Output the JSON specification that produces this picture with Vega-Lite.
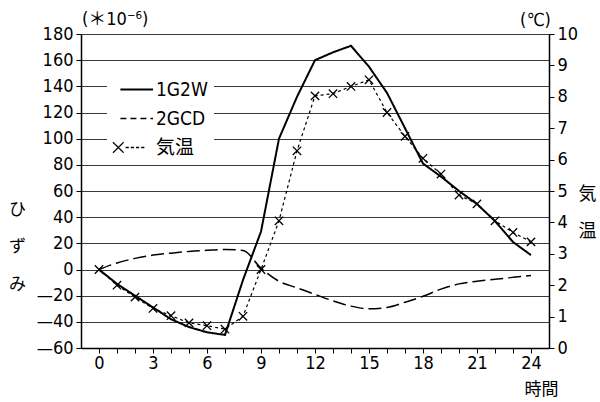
{
  "$schema": "https://vega.github.io/schema/vega-lite/v6.json",
  "width": 468,
  "height": 314,
  "autosize": "none",
  "padding": {"left": 81, "top": 34, "right": 51, "bottom": 54},
  "background": "white",
  "title": {
    "text": "(＊10⁻⁶)",
    "anchor": "start",
    "frame": "group",
    "dx": 1,
    "dy": 41,
    "offset": 5,
    "baseline": "bottom",
    "font": "Liberation Sans Narrow, DejaVu Sans Condensed, Noto Sans CJK JP, sans-serif",
    "fontSize": 18,
    "fontWeight": "normal",
    "color": "black"
  },
  "datasets": {
    "strain": [
      {"hour": 0, "series": "1G2W", "value": 0},
      {"hour": 1, "series": "1G2W", "value": -11},
      {"hour": 2, "series": "1G2W", "value": -20},
      {"hour": 3, "series": "1G2W", "value": -29},
      {"hour": 4, "series": "1G2W", "value": -38},
      {"hour": 5, "series": "1G2W", "value": -44},
      {"hour": 6, "series": "1G2W", "value": -48},
      {"hour": 7, "series": "1G2W", "value": -50},
      {"hour": 8, "series": "1G2W", "value": -8},
      {"hour": 9, "series": "1G2W", "value": 29},
      {"hour": 10, "series": "1G2W", "value": 100},
      {"hour": 11, "series": "1G2W", "value": 132},
      {"hour": 12, "series": "1G2W", "value": 160},
      {"hour": 13, "series": "1G2W", "value": 166},
      {"hour": 14, "series": "1G2W", "value": 171},
      {"hour": 15, "series": "1G2W", "value": 155},
      {"hour": 16, "series": "1G2W", "value": 135},
      {"hour": 17, "series": "1G2W", "value": 108},
      {"hour": 18, "series": "1G2W", "value": 81},
      {"hour": 19, "series": "1G2W", "value": 71},
      {"hour": 20, "series": "1G2W", "value": 60},
      {"hour": 21, "series": "1G2W", "value": 50},
      {"hour": 22, "series": "1G2W", "value": 37},
      {"hour": 23, "series": "1G2W", "value": 21},
      {"hour": 24, "series": "1G2W", "value": 11},
      {"hour": 0, "series": "2GCD", "value": 0},
      {"hour": 1, "series": "2GCD", "value": 5},
      {"hour": 2, "series": "2GCD", "value": 8.5},
      {"hour": 3, "series": "2GCD", "value": 11},
      {"hour": 4, "series": "2GCD", "value": 12.5},
      {"hour": 5, "series": "2GCD", "value": 13.8},
      {"hour": 6, "series": "2GCD", "value": 14.7},
      {"hour": 7, "series": "2GCD", "value": 15.3},
      {"hour": 8, "series": "2GCD", "value": 14.5},
      {"hour": 9, "series": "2GCD", "value": 1},
      {"hour": 10, "series": "2GCD", "value": -9},
      {"hour": 11, "series": "2GCD", "value": -14},
      {"hour": 12, "series": "2GCD", "value": -19},
      {"hour": 13, "series": "2GCD", "value": -24},
      {"hour": 14, "series": "2GCD", "value": -28},
      {"hour": 15, "series": "2GCD", "value": -30},
      {"hour": 16, "series": "2GCD", "value": -29},
      {"hour": 17, "series": "2GCD", "value": -25},
      {"hour": 18, "series": "2GCD", "value": -20.5},
      {"hour": 19, "series": "2GCD", "value": -15},
      {"hour": 20, "series": "2GCD", "value": -11},
      {"hour": 21, "series": "2GCD", "value": -9},
      {"hour": 22, "series": "2GCD", "value": -7.5},
      {"hour": 23, "series": "2GCD", "value": -6},
      {"hour": 24, "series": "2GCD", "value": -4.5}
    ],
    "temp": [
      {"hour": 0, "temp": 2.5},
      {"hour": 1, "temp": 2.0},
      {"hour": 2, "temp": 1.62},
      {"hour": 3, "temp": 1.26},
      {"hour": 4, "temp": 1.03},
      {"hour": 5, "temp": 0.8},
      {"hour": 6, "temp": 0.71},
      {"hour": 7, "temp": 0.6},
      {"hour": 8, "temp": 1.01},
      {"hour": 9, "temp": 2.5},
      {"hour": 10, "temp": 4.05},
      {"hour": 11, "temp": 6.28},
      {"hour": 12, "temp": 8.03},
      {"hour": 13, "temp": 8.1},
      {"hour": 14, "temp": 8.33},
      {"hour": 15, "temp": 8.54},
      {"hour": 16, "temp": 7.5},
      {"hour": 17, "temp": 6.74},
      {"hour": 18, "temp": 6.04},
      {"hour": 19, "temp": 5.54},
      {"hour": 20, "temp": 4.87},
      {"hour": 21, "temp": 4.59},
      {"hour": 22, "temp": 4.05},
      {"hour": 23, "temp": 3.68},
      {"hour": 24, "temp": 3.38}
    ]
  },
  "layer": [
    {
      "data": {"name": "strain"},
      "encoding": {
        "x": {
          "field": "hour",
          "type": "quantitative",
          "scale": {"domain": [-1, 25], "nice": false, "zero": false},
          "axis": {
            "orient": "bottom",
            "values": [0,1,2,3,4,5,6,7,8,9,10,11,12,13,14,15,16,17,18,19,20,21,22,23,24],
            "labelExpr": "datum.value % 3 === 0 ? datum.label : ''",
            "grid": false,
            "domainColor": "black",
            "domainWidth": 1.5,
            "tickColor": "black",
            "tickSize": 5,
            "tickWidth": 1,
            "labelFont": "Liberation Sans Narrow, DejaVu Sans Condensed, sans-serif",
            "labelFontSize": 18,
            "labelColor": "black",
            "labelPadding": 1,
            "labelFlush": false,
            "labelOverlap": false,
            "title": "時間",
            "titleX": 460,
            "titleY": 41,
            "titleAlign": "center",
            "titleBaseline": "middle",
            "titleFont": "Noto Sans CJK JP",
            "titleFontSize": 17,
            "titleFontWeight": "normal",
            "titleColor": "black"
          }
        },
        "y": {
          "field": "value",
          "type": "quantitative",
          "scale": {"domain": [-60, 180], "nice": false, "zero": false},
          "axis": {
            "orient": "left",
            "values": [-60,-40,-20,0,20,40,60,80,100,120,140,160,180],
            "labelExpr": "datum.value < 0 ? '—' + abs(datum.value) : datum.label",
            "grid": true,
            "gridColor": "#3a3a3a",
            "gridWidth": 1,
            "domainColor": "black",
            "domainWidth": 1.5,
            "tickColor": "black",
            "tickSize": 5,
            "tickWidth": 1,
            "labelFont": "Liberation Sans Narrow, DejaVu Sans Condensed, sans-serif",
            "labelFontSize": 18,
            "labelColor": "black",
            "labelPadding": 3,
            "labelFlush": false,
            "labelOverlap": false,
            "title": ["ひ", "ず", "み"],
            "titleAngle": 0,
            "titleX": -64,
            "titleY": 175,
            "titleAlign": "center",
            "titleBaseline": "middle",
            "titleLineHeight": 37.5,
            "titleFont": "Noto Sans CJK JP",
            "titleFontSize": 17,
            "titleFontWeight": "normal",
            "titleColor": "black"
          }
        }
      },
      "layer": [
        {
          "transform": [{"filter": "datum.series === '1G2W'"}],
          "mark": {"type": "line", "color": "black", "strokeWidth": 2},
          "encoding": {
            "strokeDash": {
              "field": "series",
              "type": "nominal",
              "scale": {"domain": ["1G2W", "2GCD", "気温"], "range": [[1, 0], [6, 4], [1, 0]]},
              "legend": {
                "orient": "none",
                "legendX": 26,
                "legendY": 40,
                "title": null,
                "direction": "vertical",
                "symbolType": "stroke",
                "symbolSize": 1600,
                "symbolOffset": 10.5,
                "symbolStrokeColor": "black",
                "symbolStrokeWidth": 1.5,
                "symbolFillColor": "transparent",
                "labelFont": "Liberation Sans Narrow, DejaVu Sans Condensed, Noto Sans CJK JP, sans-serif",
                "labelFontSize": 19,
                "labelColor": "black",
                "labelOffset": 13.5,
                "fillColor": "white",
                "padding": 6,
                "rowPadding": 9,
                "encode": {
                  "symbols": {
                    "update": {
                      "shape": {"signal": "datum.value === '気温' ? 'M-1,-0.26L-0.47,0.26M-1,0.26L-0.47,-0.26M-0.37,0L-0.21,0M-0.11,0L0.05,0M0.15,0L0.31,0M0.41,0L0.57,0' : 'M-0.63,0L1,0'"},
                      "strokeWidth": {"signal": "datum.value === '1G2W' ? 2 : 1.3"}
                    }
                  }
                }
              }
            }
          }
        },
        {
          "transform": [{"filter": "datum.series === '2GCD'"}],
          "mark": {"type": "line", "color": "black", "strokeWidth": 1.5, "strokeDash": [13, 5], "interpolate": "monotone"}
        }
      ]
    },
    {
      "data": {"name": "temp"},
      "encoding": {
        "x": {
          "field": "hour",
          "type": "quantitative",
          "scale": {"domain": [-1, 25], "nice": false, "zero": false},
          "axis": {
            "orient": "top",
            "domain": false,
            "ticks": false,
            "labels": false,
            "grid": false,
            "title": "(℃)",
            "titleX": 454,
            "titleY": -14,
            "titleAlign": "center",
            "titleBaseline": "middle",
            "titleFont": "Liberation Sans Narrow, DejaVu Sans Condensed, Noto Sans CJK JP, sans-serif",
            "titleFontSize": 18,
            "titleFontWeight": "normal",
            "titleColor": "black"
          }
        },
        "y": {
          "field": "temp",
          "type": "quantitative",
          "scale": {"domain": [0, 10], "nice": false, "zero": false},
          "axis": {
            "orient": "right",
            "values": [0,1,2,3,4,5,6,7,8,9,10],
            "grid": false,
            "domainColor": "black",
            "domainWidth": 1.5,
            "tickColor": "black",
            "tickSize": 5,
            "tickWidth": 1,
            "labelFont": "Liberation Sans Narrow, DejaVu Sans Condensed, sans-serif",
            "labelFontSize": 18,
            "labelColor": "black",
            "labelPadding": 3,
            "labelFlush": false,
            "labelOverlap": false,
            "title": ["気", "温"],
            "titleAngle": 0,
            "titleX": 38,
            "titleY": 160,
            "titleAlign": "center",
            "titleBaseline": "middle",
            "titleLineHeight": 37,
            "titleFont": "Noto Sans CJK JP",
            "titleFontSize": 18,
            "titleFontWeight": "normal",
            "titleColor": "black"
          }
        }
      },
      "layer": [
        {"mark": {"type": "line", "color": "black", "strokeWidth": 1.2, "strokeDash": [3, 3]}},
        {"mark": {"type": "point", "shape": "M-1,-1L1,1M-1,1L1,-1", "filled": false, "color": "black", "size": 70, "strokeWidth": 1.3, "opacity": 1}}
      ]
    }
  ],
  "resolve": {"scale": {"y": "independent"}, "axis": {"x": "independent"}},
  "config": {
    "view": {"stroke": null}
  }
}
